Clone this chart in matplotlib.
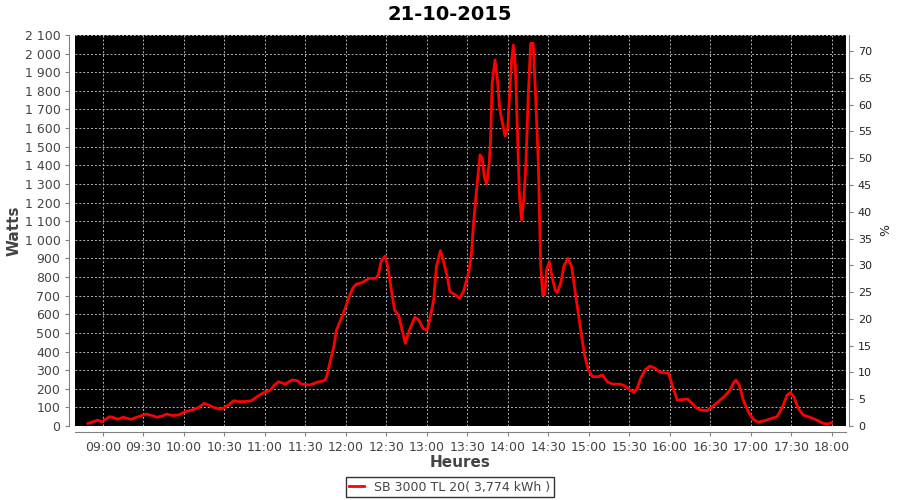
import numpy as np
import matplotlib
matplotlib.use("Agg")
import matplotlib.pyplot as plt
from matplotlib.ticker import FuncFormatter, MultipleLocator

# minutes after 09:00 and power in watts
minutes = [-11, -7, -4, -1, 2, 5, 8, 11, 15, 18, 21, 25, 29, 32, 36, 40, 44, 47, 51, 56,
           61, 66, 71, 75, 78, 82, 87, 89, 93, 97, 100, 105, 110, 114, 119, 124, 127, 130,
           135, 140, 144, 147, 153, 160, 164, 165.7, 168, 171, 173, 176, 179, 182, 185, 188,
           192, 197, 202, 204, 206, 209, 211, 214, 216, 219, 221, 224, 227, 231, 234, 237,
           240, 242, 245, 247, 250, 252, 255, 257, 261, 264, 267, 271, 273, 274.3, 276.3,
           278, 279.3, 281, 282.4, 284.2, 286.1, 287.1, 288.3, 290.4, 292, 294, 296, 297.8,
           299.8, 301, 302.7, 304, 305.4, 307, 308.4, 310.1, 311.9, 313.3, 315, 316.8, 318.7,
           320.5, 322.5, 324.2, 325.7, 327.2, 328.6, 330.6, 333, 335, 336.5, 339, 341.5,
           344.5, 347.2, 349.6, 352.1, 354.6, 357, 359.5, 362.7, 366.9, 370.1, 373.6, 377.5,
           383, 386.7, 390.4, 393.3, 395.8, 398.3, 401.5, 405.2, 408.5, 412.5, 416, 419, 422,
           425.5, 429, 433, 436.5, 440, 443, 447.2, 450.9, 455.8, 460.7, 464.4, 466.9, 468.9,
           471.3, 474.3, 478, 481.7, 485.4, 490.4, 495.3, 499.4, 503.4, 506.8, 509.3, 511.8,
           515, 518.7, 523.7, 528.6, 533.6, 537.3, 539.8]
watts = [14, 23, 32, 23, 36, 50, 45, 36, 47, 41, 36, 47, 57, 64, 57, 47, 54, 64, 57, 59,
         77, 86, 100, 122, 113, 100, 90, 95, 113, 136, 131, 131, 136, 157, 179, 193, 220, 238,
         225, 247, 243, 225, 220, 238, 243, 265, 337, 426, 515, 569, 623, 686, 740, 763,
         770, 793, 793, 811, 883, 913, 856, 713, 623, 596, 533, 444, 515, 584, 569, 525,
         515, 569, 677, 856, 942, 892, 802, 721, 704, 686, 721, 829, 927, 1070, 1232,
         1357, 1456, 1438, 1339, 1300, 1411, 1536, 1840, 1966, 1876, 1697, 1626, 1558,
         1599, 1751, 1966, 2046, 1948, 1590, 1250, 1106, 1232, 1411, 1769, 2055, 2055,
         1769, 1411, 874, 704, 704, 838, 883, 790, 730, 716, 766, 860,
         901, 856, 730, 605, 480, 372, 301, 265, 265, 274, 238, 225,
         225, 215, 193, 181, 202, 256, 301, 322, 312, 290, 285, 285, 211,
         138, 142, 145, 120, 94, 86, 82, 100, 131, 161, 193, 229, 247,
         220, 140, 77, 36, 20, 29, 41, 50, 104, 166, 179, 157,
         95, 59, 47, 32, 14, 11, 18]

tick_minutes = list(range(0, 541, 30))
tick_labels = ["09:00", "09:30", "10:00", "10:30", "11:00", "11:30", "12:00", "12:30",
               "13:00", "13:30", "14:00", "14:30", "15:00", "15:30", "16:00", "16:30",
               "17:00", "17:30", "18:00"]
legend_label = "SB 3000 TL 20( 3,774 kWh )"

grey = "#808080"
txt = "#444444"

fig = plt.figure(figsize=(9, 5), dpi=100)
ax = fig.add_axes([75 / 900, 1 - 426 / 500, (846 - 75) / 900, (426 - 35) / 500])
ax.set_facecolor("black")

ax.plot(minutes, watts, color="#ff0000", lw=2, label=legend_label)

ax.set_xlim(-20.7, 550.4)
ax.set_ylim(0, 2100)
ax.set_xticks(tick_minutes)
ax.set_xticklabels(tick_labels)
ax.yaxis.set_major_locator(MultipleLocator(100))
ax.yaxis.set_major_formatter(FuncFormatter(lambda v, p: f"{int(v):,}".replace(",", " ")))

ax.grid(True, color="#b4b4b4", linestyle=(0, (2, 2)), linewidth=0.7)

for s in ["top", "right"]:
    ax.spines[s].set_visible(False)
ax.spines["left"].set_position(("outward", 4))
ax.spines["bottom"].set_position(("outward", 4))
ax.spines["left"].set_color(grey)
ax.spines["bottom"].set_color(grey)
ax.tick_params(colors=grey, labelcolor=txt, labelsize=9, length=3)

ax.set_xlabel("Heures", fontsize=11, fontweight="bold", color=txt, labelpad=1)
ax.set_ylabel("Watts", fontsize=11, fontweight="bold", color=txt, labelpad=2)

ax2 = ax.twinx()
ax2.set_ylim(0, 73)
ax2.yaxis.set_major_locator(MultipleLocator(5))
for s in ["top", "left", "bottom"]:
    ax2.spines[s].set_visible(False)
ax2.spines["right"].set_position(("outward", 2))
ax2.spines["right"].set_color(grey)
ax2.tick_params(colors=grey, labelcolor="#222222", labelsize=8, length=3)
ax2.set_ylabel("%", fontsize=9, color="#222222", labelpad=5)

fig.suptitle("21-10-2015", fontsize=14, fontweight="bold", y=0.99)

leg = fig.legend(loc="center", bbox_to_anchor=(0.5, 0.026), fontsize=9, frameon=True,
                 fancybox=False, edgecolor="black", handlelength=1.2, borderpad=0.3)
leg.get_frame().set_linewidth(1)
for t in leg.get_texts():
    t.set_color(txt)

fig.savefig("out.png", dpi=100)
